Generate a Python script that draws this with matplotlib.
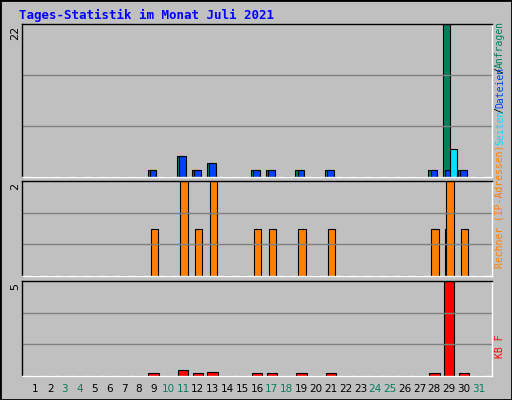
import matplotlib
matplotlib.use("Agg")
import matplotlib.pyplot as plt
from matplotlib.patches import Rectangle
import numpy as np

days = list(range(1, 32))
weekend = [3, 4, 10, 11, 17, 18, 24, 25, 31]
hits = [0]*31
files = [0]*31
pages = [0]*31
visits = [0]*31
sites = [0]*31
kb = [0]*31
for d, h, f, p in [(9,1,1,0),(11,3,3,0),(12,1,1,0),(13,2,2,0),(16,1,1,0),(17,1,1,0),
                   (19,1,1,0),(21,1,1,0),(28,1,1,0),(29,22,1,4),(30,1,1,0)]:
    hits[d-1], files[d-1], pages[d-1] = h, f, p
for d, v, s in [(9,1,0),(11,2,0),(12,1,0),(13,2,0),(16,1,0),(17,1,0),(19,1,0),(21,1,0),
                (28,1,0),(29,2,1),(30,1,0)]:
    visits[d-1], sites[d-1] = v, s
for d, k in [(9,0.15),(11,0.3),(12,0.15),(13,0.2),(16,0.15),(17,0.15),(19,0.15),(21,0.15),
             (28,0.15),(29,5.0),(30,0.15)]:
    kb[d-1] = k
max_top, max_mid, max_bot = 22, 2, 5

W, H = 512, 400
fig = plt.figure(figsize=(W/100, H/100), dpi=100, facecolor="#c0c0c0")
def ax_px(x0, y0, x1, y1):
    return fig.add_axes([x0/W, 1-y1/H, (x1-x0)/W, (y1-y0)/H])

fig.add_artist(Rectangle((0, 0), 1, 1, transform=fig.transFigure, fill=False, ec="black", lw=2))
fig.text(19/W, 1-15/H, "Tages-Statistik im Monat Juli 2021", color="#0000ff",
         family="DejaVu Sans Mono", weight="bold", fontsize=9, va="center")

panels = [(24, 177, max_top), (181, 276, max_mid), (281, 376, max_bot)]
axes = []
for (y0, y1, m) in panels:
    ax = ax_px(22, y0, 492, y1)
    ax.set_facecolor("#c0c0c0")
    ax.set_xlim(0.1, 31.9)
    ax.set_ylim(0, m)
    for g in (m/3, 2*m/3):
        ax.axhline(g, color="#808080", lw=1)
    ax.set_xticks([]); ax.set_yticks([])
    for s in ax.spines.values():
        s.set_color("black"); s.set_linewidth(1)
    ax.spines["bottom"].set_color("white"); ax.spines["right"].set_color("white")
    fig.text(15/W, 1-(y0+2)/H, str(m), rotation=90, ha="center", va="top", fontsize=8)
    axes.append(ax)

x = np.array(days, dtype=float)
kw = dict(edgecolor="black", linewidth=0.8, align="edge")
a0, a1, a2 = axes
a0.bar(x-0.4, hits, width=0.45, color="#00805c", **kw)
a0.bar(x-0.25, files, width=0.45, color="#0040ff", **kw)
a0.bar(x+0.05, pages, width=0.45, color="#00e0ff", **kw)
a1.bar(x-0.3, sites, width=0.5, color="#ffff00", **kw)
a1.bar(x-0.2, visits, width=0.5, color="#ff8000", **kw)
a2.bar(x-0.35, kb, width=0.7, color="#ff0000", **kw)

for d in days:
    px = a2.transData.transform((d, 0))[0] / fig.dpi / (W/100)
    fig.text(px, 1-389/H, str(d), ha="center", va="center", fontsize=7.5,
             color="#00805c" if d in weekend else "black")

def vtext(y, s, c):
    fig.text(500/W, 1-y/H, s, rotation=90, color=c, fontsize=7, ha="center", va="bottom",
             family="DejaVu Sans Mono")
vtext(68, "Anfragen", "#00805c")
vtext(73, "/", "black")
vtext(108, "Dateien", "#0040ff")
vtext(113, "/", "black")
vtext(145, "Seiten", "#00e0ff")
vtext(268, "Rechner (IP-Adressen)", "#ff8000")
vtext(358, "KB F", "#ff0000")

fig.savefig("out.png", dpi=100, facecolor=fig.get_facecolor())
